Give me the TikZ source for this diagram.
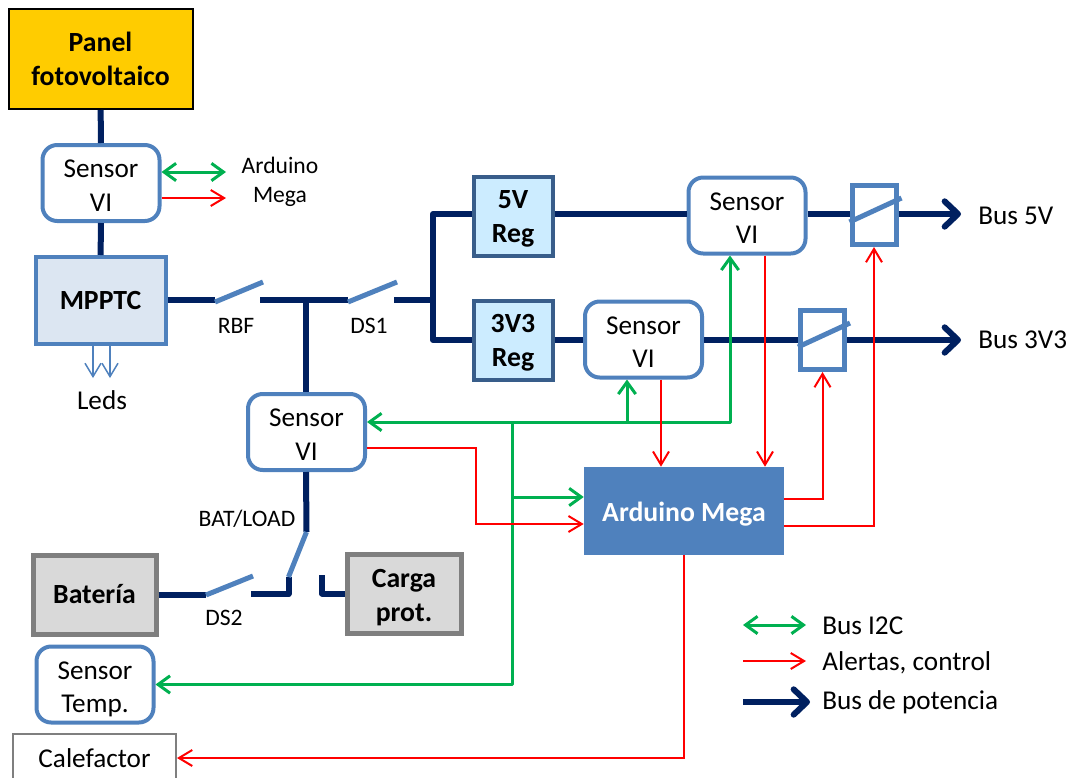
\documentclass[tikz,border=0pt]{standalone}
\usepackage{fontspec}
\setmainfont{Carlito}
\usetikzlibrary{arrows.meta, calc}
\definecolor{bus}{HTML}{002060}
\definecolor{azul}{HTML}{4F81BD}
\definecolor{azuloscuro}{HTML}{385D8A}
\definecolor{verde}{HTML}{00B050}
\definecolor{rojo}{HTML}{FF0000}
\definecolor{gris}{HTML}{7F7F7F}
\definecolor{amarillo}{HTML}{FFCC00}
\definecolor{celeste}{HTML}{CCECFF}
\def\px{0.75pt}
\tikzset{
  texto/.style={font=\fontsize{20.4}{25}\selectfont, align=center, inner sep=0pt},
  negrita/.style={font=\fontsize{20.8}{25.5}\selectfont\bfseries, align=center, inner sep=0pt},
  etiqueta/.style={font=\fontsize{17.7}{21.7}\selectfont, align=center, inner sep=0pt},
  sensor/.style={texto, text height=42pt, draw=azul, fill=white, line width=4*\px, rounded corners=11pt,
    minimum width=117*\px, minimum height=76*\px},
  regbox/.style={negrita, text height=44pt, draw=azuloscuro, fill=celeste,
    line width=4*\px, minimum width=79*\px, minimum height=79*\px},
  grisbox/.style={negrita, draw=gris, fill=gris!30!white, line width=5*\px},
  relebox/.style={draw=azul, line width=5*\px, minimum width=44*\px, minimum height=59*\px, inner sep=0pt},
  potencia/.style={bus, line width=6*\px},
  potflecha/.style={potencia, -{Straight Barb[length=10pt,width=19pt,round]}},
  llave/.style={azul, line width=5*\px},
  i2c/.style={verde, line width=3*\px, -{Straight Barb[length=9pt,width=13pt]}},
  i2cdoble/.style={i2c, {Straight Barb[length=9pt,width=13pt]}-{Straight Barb[length=9pt,width=13pt]}},
  alerta/.style={rojo, line width=2*\px, -{Straight Barb[length=10pt,width=12pt]}},
}
\begin{document}
\begin{tikzpicture}[x=0.75pt, y=-0.75pt]
  \clip (0,0) rectangle (1068,778);
  \useasboundingbox (0,0) rectangle (1068,778);

  % Bloques
  \node[negrita, draw=black, fill=amarillo, line width=2*\px,
    minimum width=184*\px, minimum height=100*\px] (panel) at (100.5,59) {Panel\\fotovoltaico};
  \node[sensor] (sensorPanel) at (101,183) {Sensor\\VI};
  \node[negrita, draw=azul, fill=azul!20!white, line width=4*\px,
    minimum width=130*\px, minimum height=87*\px] (mppt) at (100.5,300.5) {MPPTC};
  \node[sensor] (sensorBat) at (306.5,432) {Sensor\\VI};
  \node[grisbox, minimum width=123*\px, minimum height=79*\px] (bateria) at (94.5,594.5) {Batería};
  \node[grisbox, text height=45.5pt, minimum width=114*\px, minimum height=79*\px] (carga) at (404,593.5) {Carga\\prot.};
  \node[sensor, text height=45.5pt] (sensorTemp) at (95,684.5) {Sensor\\Temp.};
  \node[texto, draw=gris, line width=2*\px, minimum width=163*\px, minimum height=56*\px] (calefactor) at (94.5,762) {};
  \node[texto] (calefactorTxt) at (94.5,758) {Calefactor};
  \node[regbox] (regA) at (513,216) {5V\\Reg};
  \node[regbox] (regB) at (513,340) {3V3\\Reg};
  \node[sensor] (sensorA) at (747,215.5) {Sensor\\VI};
  \node[sensor] (sensorB) at (643.5,339.5) {Sensor\\VI};
  \node[relebox] (releA) at (874,215) {};
  \node[relebox] (releB) at (822.5,340) {};
  \node[negrita, text=white, fill=azul, text height=19pt,
    minimum width=200*\px, minimum height=88*\px] (arduino) at (684,511) {Arduino Mega};

  % Etiquetas
  \node[etiqueta] (lblArduino) at (280,182) {Arduino\\Mega};
  \node[texto] (lblLeds) at (102,400) {Leds};
  \node[etiqueta] (lblRbf) at (236,326) {RBF};
  \node[etiqueta] (lblDsA) at (369,326) {DS1};
  \node[etiqueta] (lblBat) at (247,519) {BAT/LOAD};
  \node[etiqueta] (lblDsB) at (224,618) {DS2};
  \node[texto, anchor=west] (busA) at (978,216) {Bus 5V};
  \node[texto, anchor=west] (busB) at (978,340) {Bus 3V3};
  \node[texto, anchor=west] (lglI) at (822,626) {Bus I2C};
  \node[texto, anchor=west] (lglA) at (822,662.5) {Alertas, control};
  \node[texto, anchor=west] (lglP) at (822,702) {Bus de potencia};

  % Puntos de paso
  \coordinate (rbfA) at (215,302);
  \coordinate (rbfB) at (263,282);
  \coordinate (rbfC) at (260,300);
  \coordinate (nodoBat) at (306,300);
  \coordinate (dsaA) at (348,302);
  \coordinate (dsaB) at (397,282);
  \coordinate (dsaC) at (394,300);
  \coordinate (nodoReg) at (433,300);
  \coordinate (batA) at (306.5,532);
  \coordinate (batB) at (288.5,577);
  \coordinate (dsbA) at (206,595);
  \coordinate (dsbB) at (253,576);
  \coordinate (dsbC) at (251,594);
  \coordinate (cargaA) at (322,575);
  \coordinate (finA) at (961,214);
  \coordinate (finB) at (961,340);
  \coordinate (lgA) at (743,625);
  \coordinate (lgB) at (806,625);
  \coordinate (lgC) at (743,661);
  \coordinate (lgD) at (806,661);
  \coordinate (lgE) at (743,702);
  \coordinate (lgF) at (810,702);
  \coordinate (ledsA) at (93,378);
  \coordinate (ledsB) at (110,378);
  \coordinate (ardA) at (226,172);
  \coordinate (ardB) at (226,198);

  % Bus de potencia
  \draw[potencia] (panel) -- (sensorPanel);
  \draw[potencia] (sensorPanel) -- (mppt);
  \draw[potencia] (mppt.east |- rbfC) -- (rbfA |- rbfC);
  \draw[potencia] (rbfC) -- (dsaA |- rbfC);
  \draw[potencia] (nodoBat) -- (nodoBat |- sensorBat.north);
  \draw[potencia] (dsaC) -- (nodoReg);
  \draw[potencia, line join=round] (regA.west |- finA) -| (nodoReg) |- (regB.west);
  \draw[potencia] (regA.east |- finA) -- (sensorA.west |- finA);
  \draw[potencia] (sensorA.east |- finA) -- (releA.west |- finA);
  \draw[potflecha] (releA.east |- finA) -- (finA);
  \draw[potencia] (regB) -- (sensorB.west |- regB);
  \draw[potencia] (sensorB.east |- regB) -- (releB.west |- regB);
  \draw[potflecha] (releB.east |- finB) -- (finB);
  \draw[potencia] (nodoBat |- sensorBat.south) -- (batA);
  \draw[potencia, line join=round] (batB) -- (batB |- dsbC) -- (dsbC);
  \draw[potencia] (bateria.east |- dsbA) -- (dsbA);
  \draw[potencia, line join=round] (cargaA) |- (carga.west);

  % Llaves
  \draw[llave] (rbfA) -- (rbfB);
  \draw[llave] (dsaA) -- (dsaB);
  \draw[llave] (batA) -- (batB);
  \draw[llave] (dsbA) -- (dsbB);
  \draw[llave] ($(releA.west)+(0,7)$) -- ($(releA.east)+(3,-17)$);
  \draw[llave] ($(releB.west)+(0,7)$) -- ($(releB.east)+(3,-17)$);

  % Bus I2C
  \coordinate (i2cNodo) at (512,422);
  \coordinate (i2cB) at (627,422);
  \coordinate (i2cA) at (730,422);
  \draw[i2c] (i2cNodo) -- (sensorBat.east |- i2cNodo);
  \draw[i2c, line join=round] (i2cNodo) -- (i2cA) -- (i2cA |- sensorA.south);
  \draw[i2c] (i2cB) -- (i2cB |- sensorB.south);
  \draw[i2c, line join=round] (i2cNodo) |- (sensorTemp.east);
  \draw[i2c] (i2cNodo |- 0,497) -- (arduino.west |- 0,497);
  \draw[i2cdoble] (sensorPanel.east |- ardA) -- (ardA);

  % Alertas y control
  \draw[alerta] (sensorPanel.east |- ardB) -- (ardB);
  \draw[alerta] (sensorBat.east |- 0,448) -| (476,524) -- (arduino.west |- 0,524);
  \draw[alerta] (661,0 |- sensorB.south) -- (661,0 |- arduino.north);
  \draw[alerta] (765,0 |- sensorA.south) -- (765,0 |- arduino.north);
  \draw[alerta] (arduino.east |- 0,499) -| (releB.south);
  \draw[alerta] (arduino.east |- 0,526) -| (releA.south);
  \draw[alerta] (arduino.south) |- (calefactor.east |- calefactorTxt);

  % Leds
  \draw[azul, line width=1.5*\px, -{Straight Barb[length=10pt,width=12pt]}] (mppt.south -| ledsA) -- (ledsA);
  \draw[azul, line width=1.5*\px, -{Straight Barb[length=10pt,width=12pt]}] (mppt.south -| ledsB) -- (ledsB);

  % Leyenda
  \draw[i2cdoble] (lgA) -- (lgB);
  \draw[alerta] (lgC) -- (lgD);
  \draw[potflecha] (lgE) -- (lgF);
\end{tikzpicture}
\end{document}
